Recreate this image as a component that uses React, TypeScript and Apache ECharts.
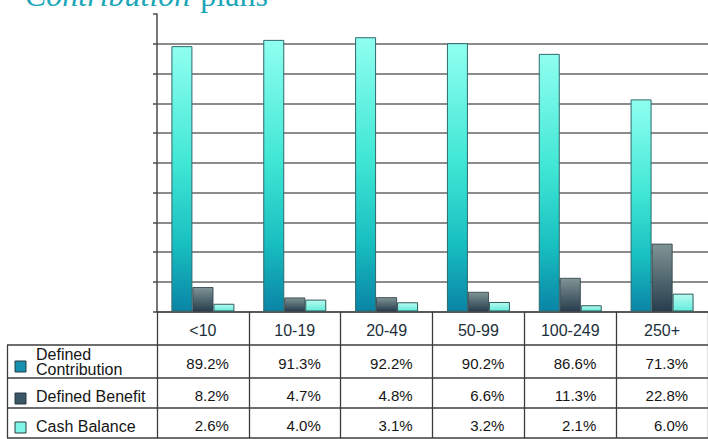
import React, { useEffect, useRef } from "react";
import * as echarts from "echarts";

const categories = ["<10", "10-19", "20-49", "50-99", "100-249", "250+"];
const seriesNames = ["Defined Contribution", "Defined Benefit", "Cash Balance"];
const legendLabels = ["Defined\nContribution", "Defined Benefit", "Cash Balance"];
const definedContribution = [89.2, 91.3, 92.2, 90.2, 86.6, 71.3];
const definedBenefit = [8.2, 4.7, 4.8, 6.6, 11.3, 22.8];
const cashBalance = [2.6, 4.0, 3.1, 3.2, 2.1, 6.0];
const titleItalic = "Contribution";
const titleRest = "plans";

const SANS = "'Liberation Sans', Arial, sans-serif";
const SERIF = "'Liberation Serif', 'Times New Roman', serif";

const fmt = (v: number) => v.toFixed(1) + "%";

export default function App() {
  const ref = useRef<HTMLDivElement>(null);

  useEffect(() => {
    if (!ref.current) return;
    const chart = echarts.init(ref.current, null, { renderer: "svg" });

    const dcGrad = new echarts.graphic.LinearGradient(0, 0, 0, 1, [
      { offset: 0, color: "#8ffff0" },
      { offset: 0.45, color: "#3fe6d4" },
      { offset: 0.75, color: "#18bfc0" },
      { offset: 1, color: "#0a84a6" },
    ]);
    const dbGrad = new echarts.graphic.LinearGradient(0, 0, 0, 1, [
      { offset: 0, color: "#7f9494" },
      { offset: 1, color: "#283e4e" },
    ]);
    const cbGrad = new echarts.graphic.LinearGradient(0, 0, 0, 1, [
      { offset: 0, color: "#b8fbf2" },
      { offset: 1, color: "#62ecda" },
    ]);

    const gridColors: string[] = [];
    for (let i = 0; i < 10; i++) gridColors.push("#666666");
    gridColors.push("rgba(0,0,0,0)");

    const tableLine = { stroke: "#3c3c3c", lineWidth: 1.3 };
    const rowYs = [345, 378, 408, 438];
    const legendSquareYs = [361, 393, 422];
    const legendTextYs = [362, 396, 426];
    const legendColors = ["#1590b0", "#3a5565", "#7ff5e8"];

    const graphic: any[] = [];
    rowYs.forEach((y) => {
      graphic.push({
        type: "line",
        shape: { x1: 7, y1: y, x2: 708, y2: y },
        style: tableLine,
        z: 10,
      });
    });
    graphic.push({
      type: "line",
      shape: { x1: 7.5, y1: 345, x2: 7.5, y2: 438 },
      style: tableLine,
      z: 10,
    });
    seriesNames.forEach((name, i) => {
      graphic.push({
        type: "rect",
        shape: { x: 15, y: legendSquareYs[i], width: 11, height: 11 },
        style: { fill: legendColors[i], stroke: "#2a3a40", lineWidth: 1 },
        z: 10,
      });
      graphic.push({
        type: "text",
        x: 36,
        y: legendTextYs[i],
        style: {
          text: legendLabels[i],
          font: `16px ${SANS}`,
          fill: "#151515",
          verticalAlign: "middle",
          lineHeight: 15,
        },
        z: 10,
      });
    });
    graphic.push({
      type: "text",
      x: 25,
      y: -5,
      style: {
        text: `{i|${titleItalic}}{s| }{r|${titleRest}}`,
        fill: "#1ba6b8",
        verticalAlign: "middle",
        rich: {
          i: { fontFamily: SERIF, fontStyle: "italic", fontSize: 32, fill: "#1ba6b8" },
          s: { fontFamily: SERIF, fontSize: 32, width: 10 },
          r: { fontFamily: SERIF, fontSize: 32, fill: "#1ba6b8" },
        },
      },
      z: 10,
    });

    chart.setOption({
      animation: false,
      backgroundColor: "#ffffff",
      grid: { left: 157, right: -8, top: 14, bottom: 127.5, containLabel: false },
      xAxis: {
        type: "category",
        data: categories,
        boundaryGap: true,
        axisLine: { show: true, lineStyle: { color: "#4a4a4a", width: 1.5 } },
        axisTick: {
          show: true,
          interval: 0,
          alignWithLabel: false,
          length: 126.5,
          lineStyle: { color: "#3c3c3c", width: 1.3 },
        },
        axisLabel: {
          interval: 0,
          margin: 2,
          hideOverlap: false,
          formatter: (value: string, index: number) =>
            `{h|${value}}\n{a|${fmt(definedContribution[index])}}\n{b|${fmt(
              definedBenefit[index]
            )}}\n{c|${fmt(cashBalance[index])}}`,
          rich: {
            h: { fontFamily: SANS, fontSize: 16, lineHeight: 33, width: 52, align: "center", color: "#1d2f3a" },
            a: { fontFamily: SANS, fontSize: 15, lineHeight: 33, width: 52, align: "right", color: "#151515" },
            b: { fontFamily: SANS, fontSize: 15, lineHeight: 31, width: 52, align: "right", color: "#151515" },
            c: { fontFamily: SANS, fontSize: 15, lineHeight: 29, width: 52, align: "right", color: "#151515" },
          },
        },
        splitLine: { show: false },
      },
      yAxis: {
        type: "value",
        min: 0,
        max: 100,
        interval: 10,
        axisLabel: { show: false },
        axisLine: { show: true, lineStyle: { color: "#4a4a4a", width: 1.5 } },
        axisTick: { show: true, length: 4, lineStyle: { color: "#4a4a4a", width: 1.5 } },
        splitLine: { show: true, lineStyle: { color: gridColors, width: 1.5 } },
      },
      series: [
        {
          name: seriesNames[0],
          type: "bar",
          data: definedContribution,
          barWidth: 21,
          barGap: "0%",
          itemStyle: { color: dcGrad, borderColor: "#2e6a6c", borderWidth: 1 },
        },
        {
          name: seriesNames[1],
          type: "bar",
          data: definedBenefit,
          barWidth: 21,
          barGap: "0%",
          itemStyle: { color: dbGrad, borderColor: "#2a3a44", borderWidth: 0.8 },
        },
        {
          name: seriesNames[2],
          type: "bar",
          data: cashBalance,
          barWidth: 21,
          barGap: "0%",
          itemStyle: { color: cbGrad, borderColor: "#2e5a5a", borderWidth: 1 },
        },
      ],
      graphic,
    });

    return () => chart.dispose();
  }, []);

  return (
    <div
      ref={ref}
      style={{ position: "fixed", left: 0, top: 0, width: 708, height: 439, background: "#fff" }}
    />
  );
}
